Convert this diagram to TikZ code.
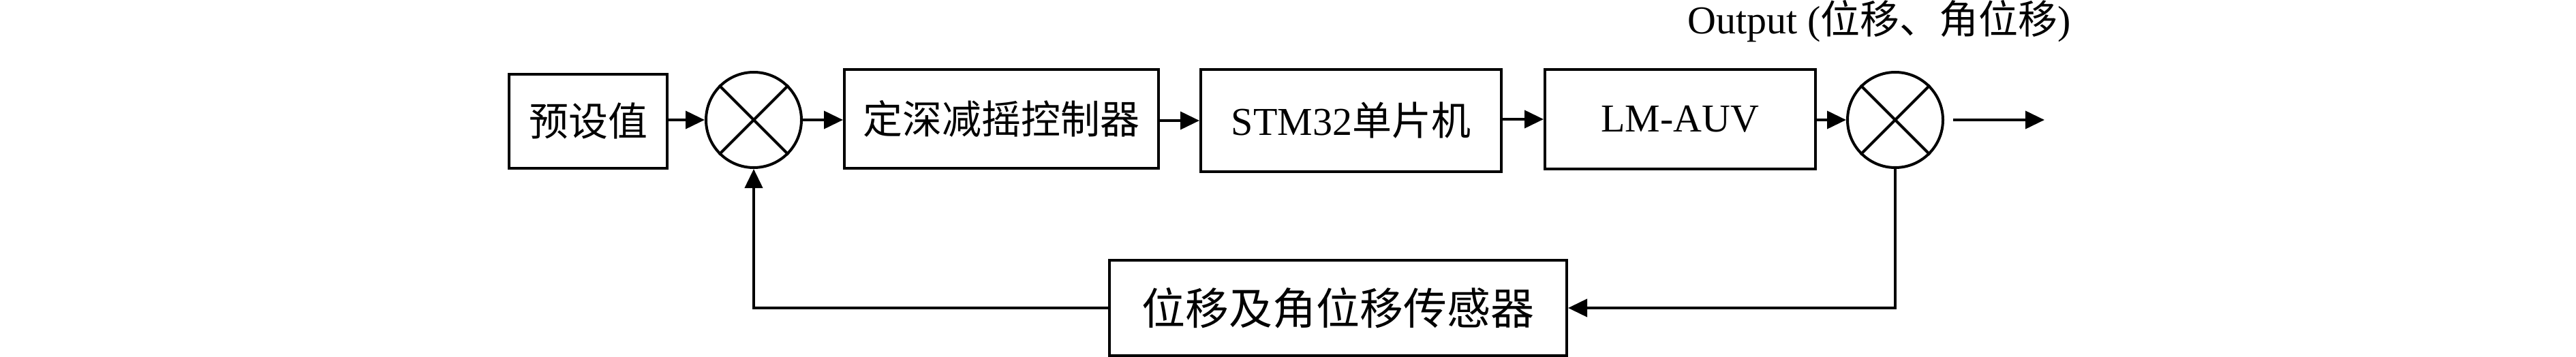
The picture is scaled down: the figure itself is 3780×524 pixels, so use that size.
\documentclass[tikz,border=0pt]{standalone}
\usepackage{fontspec}
\setmainfont{Liberation Serif}
\newfontfamily\cjk{Noto Sans CJK SC}
\usepackage{tikz}
\usetikzlibrary{arrows.meta}

\tikzset{
  blk/.style={draw, line width=2pt, inner sep=0pt, font=\fontsize{29}{34}\selectfont},
  sumnode/.style={draw, circle, line width=2pt, minimum size=70pt, inner sep=0pt},
  arr/.style={line width=2pt, -{Triangle[length=14pt,width=13pt]}}
}

\begin{document}
\begin{tikzpicture}[x=0.5pt,y=0.5pt,yscale=-1,xscale=1]
\useasboundingbox (0,0) rectangle (3780,524);

%Shape: Rectangle
\node [blk, minimum width=116pt, minimum height=68.5pt] (preset) at (863,178) {\cjk 预设值};
%Shape: Circle
\node [sumnode] (sum1) at (1106,176) {};
\draw [line width=2pt] (sum1.45) -- (sum1.225) (sum1.135) -- (sum1.315);
%Shape: Rectangle
\node [blk, minimum width=230.5pt, minimum height=72.5pt] (ctrl) at (1469.5,174.5) {\cjk 定深减摇控制器};
%Shape: Rectangle
\node [blk, minimum width=220.5pt, minimum height=75pt] (mcu) at (1982.5,177) {STM32{\cjk 单片机}};
%Shape: Rectangle
\node [blk, minimum width=198.5pt, minimum height=73pt] (auv) at (2465.5,175) {LM-AUV};
%Shape: Circle
\node [sumnode] (sum2) at (2781,176) {};
\draw [line width=2pt] (sum2.45) -- (sum2.225) (sum2.135) -- (sum2.315);
%Shape: Rectangle
\node [blk, minimum width=335.5pt, minimum height=70pt, font=\fontsize{32}{36}\selectfont] (sensor) at (1963.5,452) {\cjk 位移及角位移传感器};

% Text Node
\node [anchor=base, inner sep=0pt, font=\fontsize{29}{34}\selectfont] (outlbl) at (2758,50) {Output ({\cjk 位移、角位移})};

\coordinate (outs) at (2866,176);
\coordinate (oute) at (3000,176);

%Straight Lines
\draw [arr] (preset.east |- sum1) -- (sum1.west);
\draw [arr] (sum1.east) -- (sum1.east -| ctrl.west);
\draw [arr] (ctrl.east |- mcu) -- (mcu.west);
\draw [arr] (mcu.east |- auv) -- (auv.west);
\draw [arr] (auv.east |- sum2) -- (sum2.west);
\draw [arr] (outs) -- (oute);
%Feedback Lines
\draw [arr] (sum2.south) |- (sensor.east);
\draw [arr] (sensor.west) -| (sum1.south);
\end{tikzpicture}
\end{document}
